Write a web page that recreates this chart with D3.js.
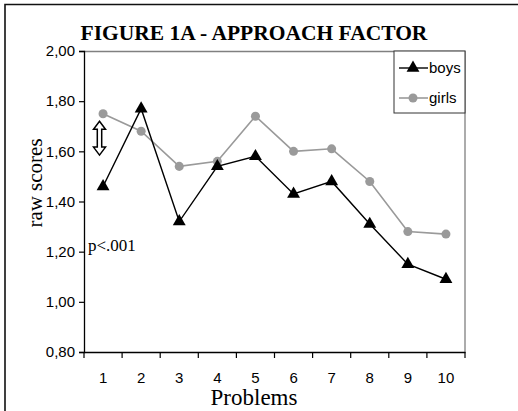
<!DOCTYPE html>
<html>
<head>
<meta charset="utf-8">
<script src="https://cdn.jsdelivr.net/npm/d3@7"></script>
<style>
  body { margin: 0; background: #fff; }
  svg { display: block; }
</style>
</head>
<body>
<div id="chart"></div>
<script>
// Chart data
var problems = ['1', '2', '3', '4', '5', '6', '7', '8', '9', '10'];
var boys = [1.46, 1.77, 1.32, 1.54, 1.58, 1.43, 1.48, 1.31, 1.15, 1.09];
var girls = [1.75, 1.68, 1.54, 1.56, 1.74, 1.60, 1.61, 1.48, 1.28, 1.27];
var yTicks = [0.8, 1.0, 1.2, 1.4, 1.6, 1.8, 2.0];

var width = 518;
var height = 411;
var margin = { top: 51, right: 53, bottom: 59, left: 84 };
var innerWidth = width - margin.left - margin.right;
var innerHeight = height - margin.top - margin.bottom;

var svg = d3.select('#chart')
            .append('svg')
            .attr('width', width)
            .attr('height', height);

// Outer frame (only left and top edges are visible)
svg.append('path')
   .attr('d', 'M5,' + height + 'V4.5H' + width)
   .attr('fill', 'none')
   .attr('stroke', '#111')
   .attr('stroke-width', 1.6);

// Title
svg.append('text')
   .attr('x', 254)
   .attr('y', 40)
   .attr('text-anchor', 'middle')
   .attr('font-family', '"Liberation Serif", "Times New Roman", serif')
   .attr('font-weight', 'bold')
   .attr('font-size', 21.5)
   .text('FIGURE 1A - APPROACH FACTOR');

var x = d3.scaleBand()
          .domain(problems)
          .range([0, innerWidth]);
var y = d3.scaleLinear()
          .domain([0.8, 2.0])
          .range([innerHeight, 0]);

var g = svg.append('g')
           .attr('transform', 'translate(' + margin.left + ',' + margin.top + ')');

// Plot border (top and right, gray)
g.append('path')
 .attr('d', 'M0,0.5H' + innerWidth + 'V' + innerHeight)
 .attr('fill', 'none')
 .attr('stroke', '#808080')
 .attr('stroke-width', 1.3);

// Y axis
var yAxis = g.append('g')
             .call(d3.axisLeft(y)
                     .tickValues(yTicks)
                     .tickSize(5)
                     .tickPadding(4)
                     .tickFormat(function (d) { return d3.format('.2f')(d).replace('.', ','); }));
yAxis.select('.domain').attr('stroke', '#000').attr('stroke-width', 1.3);
yAxis.selectAll('.tick line').attr('stroke-width', 1.2);
yAxis.selectAll('text')
     .attr('font-family', '"Liberation Sans", Arial, sans-serif')
     .attr('font-size', 15)
     .attr('fill', '#000');

// X axis: ticks at category boundaries
var xAxis = g.append('g')
             .attr('transform', 'translate(0,' + innerHeight + ')')
             .call(d3.axisBottom(x).tickSize(0).tickPadding(20));
xAxis.select('.domain').attr('stroke', '#000').attr('stroke-width', 1.3);
xAxis.selectAll('text')
     .attr('font-family', '"Liberation Sans", Arial, sans-serif')
     .attr('font-size', 15)
     .attr('fill', '#000');
xAxis.selectAll('.boundary')
     .data(d3.range(problems.length + 1))
     .enter()
     .append('line')
     .attr('class', 'boundary')
     .attr('x1', function (i) { return i * x.step(); })
     .attr('x2', function (i) { return i * x.step(); })
     .attr('y1', 0)
     .attr('y2', 6)
     .attr('stroke', '#000')
     .attr('stroke-width', 1.2);

// Axis titles
svg.append('text')
   .attr('x', 254)
   .attr('y', 405)
   .attr('text-anchor', 'middle')
   .attr('font-family', '"Liberation Serif", "Times New Roman", serif')
   .attr('font-size', 23)
   .text('Problems');

svg.append('text')
   .attr('transform', 'translate(42,183) rotate(-90)')
   .attr('text-anchor', 'middle')
   .attr('font-family', '"Liberation Serif", "Times New Roman", serif')
   .attr('font-size', 21)
   .text('raw scores');

var cx = function (d, i) { return x(problems[i]) + x.bandwidth() / 2; };

// Series
var series = [
  { name: 'girls', values: girls, color: '#9a9a9a', symbol: d3.symbolCircle, size: 64, width: 1.6 },
  { name: 'boys', values: boys, color: '#000', symbol: d3.symbolTriangle, size: 72, width: 1.4 }
];

series.forEach(function (s) {
  var line = d3.line()
               .x(cx)
               .y(function (d) { return y(d); });
  g.append('path')
   .datum(s.values)
   .attr('d', line)
   .attr('fill', 'none')
   .attr('stroke', s.color)
   .attr('stroke-width', s.width);
  g.selectAll('.pt-' + s.name)
   .data(s.values)
   .enter()
   .append('path')
   .attr('class', 'pt-' + s.name)
   .attr('transform', function (d, i) {
     return 'translate(' + cx(d, i) + ',' + y(d) + ')';
   })
   .attr('d', d3.symbol().type(s.symbol).size(s.size))
   .attr('fill', s.color);
});

// Significance annotation
g.append('text')
 .attr('x', 4)
 .attr('y', y(1.2) - 1)
 .attr('font-family', '"Liberation Serif", "Times New Roman", serif')
 .attr('font-size', 17)
 .text('p<.001');

// Hollow double arrow
var ax = 15.5, ay0 = y(1.72), ay1 = y(1.585);
var hw = 6, sw = 2.2, hh = 8;
g.append('path')
 .attr('d', 'M' + ax + ',' + ay0 +
            'L' + (ax + hw) + ',' + (ay0 + hh) +
            'L' + (ax + sw) + ',' + (ay0 + hh) +
            'L' + (ax + sw) + ',' + (ay1 - hh) +
            'L' + (ax + hw) + ',' + (ay1 - hh) +
            'L' + ax + ',' + ay1 +
            'L' + (ax - hw) + ',' + (ay1 - hh) +
            'L' + (ax - sw) + ',' + (ay1 - hh) +
            'L' + (ax - sw) + ',' + (ay0 + hh) +
            'L' + (ax - hw) + ',' + (ay0 + hh) + 'Z')
 .attr('fill', '#fff')
 .attr('stroke', '#000')
 .attr('stroke-width', 1.5);

// Legend
var legend = g.append('g')
              .attr('transform', 'translate(' + (innerWidth - 71) + ',0)');
legend.append('rect')
      .attr('x', 0)
      .attr('y', 0)
      .attr('width', 71)
      .attr('height', 62)
      .attr('fill', '#fff')
      .attr('stroke', '#333')
      .attr('stroke-width', 1);
var legendItems = [series[1], series[0]];
legendItems.forEach(function (s, i) {
  var ly = 17 + i * 30;
  legend.append('line')
        .attr('x1', 5)
        .attr('x2', 34)
        .attr('y1', ly)
        .attr('y2', ly)
        .attr('stroke', s.color)
        .attr('stroke-width', s.width);
  legend.append('path')
        .attr('transform', 'translate(19,' + ly + ')')
        .attr('d', d3.symbol().type(s.symbol).size(s.size))
        .attr('fill', s.color);
  legend.append('text')
        .attr('x', 35)
        .attr('y', ly + 5)
        .attr('font-family', '"Liberation Sans", Arial, sans-serif')
        .attr('font-size', 15)
        .text(s.name);
});
</script>
</body>
</html>
